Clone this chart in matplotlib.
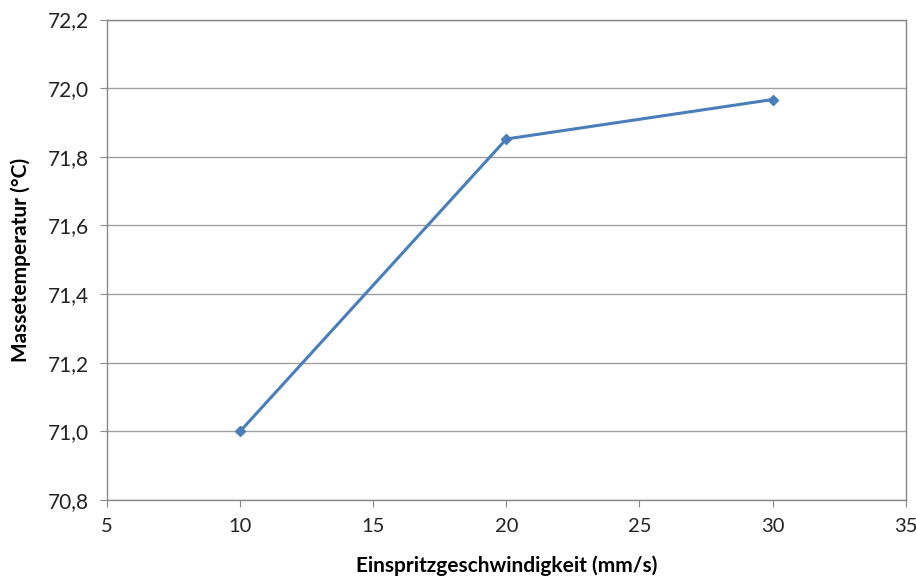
import matplotlib.pyplot as plt
from matplotlib.ticker import FuncFormatter

plt.rcParams['font.family'] = ['Lato', 'DejaVu Sans']

# data
speed = [10, 20, 30]
temp = [71.0, 71.852, 71.967]
x_ticks = [5, 10, 15, 20, 25, 30, 35]
y_ticks = [70.8, 71.0, 71.2, 71.4, 71.6, 71.8, 72.0, 72.2]

fig = plt.figure(figsize=(9.16, 5.88), dpi=100)
ax = fig.add_axes([0.1168, 0.1497, 0.872, 0.817])

ax.plot(speed, temp, color='#4a7ebb', lw=2.2, marker='D', ms=5, zorder=3)

ax.set_xlim(5, 35)
ax.set_ylim(70.8, 72.2)
ax.set_xticks(x_ticks)
ax.set_yticks(y_ticks)
ax.yaxis.set_major_formatter(FuncFormatter(lambda v, p: f"{v:.1f}".replace('.', ',')))
ax.grid(axis='y', color='#a0a0a0', lw=1)
ax.set_axisbelow(True)

for s in ax.spines.values():
    s.set_color('#888888')
    s.set_linewidth(1)
ax.tick_params(axis='both', direction='out', length=5, color='#888888',
               labelsize=15, labelcolor='#222222', pad=8)
ax.tick_params(axis='x', labelsize=14.5)

ax.set_xlabel('Einspritzgeschwindigkeit (mm/s)', fontsize=15, fontweight='bold', labelpad=15)
ax.set_ylabel('Massetemperatur (°C)', fontsize=15, fontweight='bold', labelpad=12)

fig.savefig('out.png', dpi=100)
